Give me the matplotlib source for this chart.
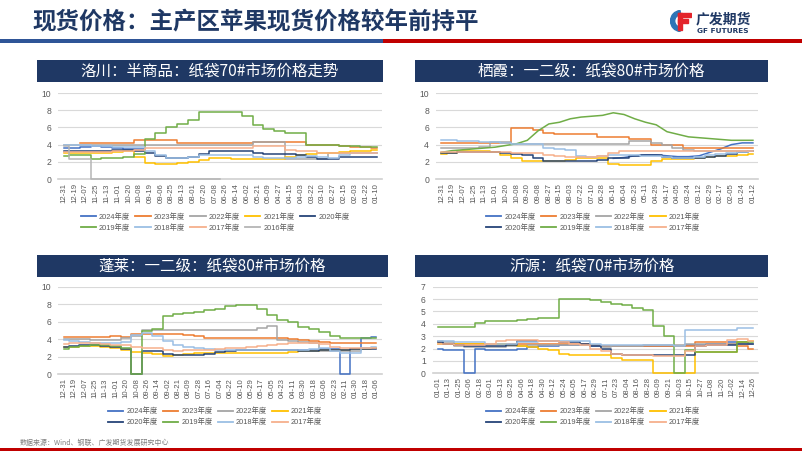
import numpy as np
import matplotlib
matplotlib.use("Agg")
import matplotlib.pyplot as plt
from matplotlib.patches import Rectangle, Wedge
from matplotlib.lines import Line2D

plt.rcParams['font.family'] = ['Noto Sans CJK SC', 'DejaVu Sans']

# ---------------- text ----------------
main_title = "现货价格：主产区苹果现货价格较年前持平"
source_text = "数据来源：Wind、钢联、广发期货发展研究中心"
logo_cn = "广发期货"
logo_en = "GF FUTURES"
t_lc = "洛川：半商品：纸袋70#市场价格走势"
t_qx = "栖霞：一二级：纸袋80#市场价格"
t_pl = "蓬莱：一二级：纸袋80#市场价格"
t_yy = "沂源：纸袋70#市场价格"

# ---------------- colors per season ----------------
colors = {"2024": "#4472C4", "2023": "#ED7D31", "2022": "#A5A5A5", "2021": "#FFC000",
          "2020": "#264478", "2019": "#70AD47", "2018": "#9BBFE4", "2017": "#F6B08C",
          "2016": "#B5B5B5"}

# ---------------- 洛川 ----------------
lc_ticks = ["12-31", "12-19", "12-07", "11-25", "11-13", "11-01", "10-20", "10-08", "09-19", "09-06",
            "08-25", "08-13", "08-01", "07-20", "07-08", "06-26", "06-14", "06-02", "05-21", "05-09",
            "04-27", "04-15", "04-03", "03-22", "03-10", "02-27", "02-15", "02-03", "01-22", "01-10"]
lc_2024 = [3.6, 3.6, 3.7, 3.8, 3.7, 3.6, 3.5, 3.5] + [None] * 22
lc_2023 = [None, None, 4.2, 4.2, 4.2, 4.2, 4.2, 4.5, 4.5, 4.5, 4.5, 4.2, 4.2, 4.2, 4.2, 4.2, 4.2, 4.2,
           4.3, 4.3, 4.3, 4.3, 4.3, 4.0, 4.0, 4.0, 3.8, 3.7, 3.7, 3.6]
lc_2022 = [3.9, 3.9, 3.9, 3.9, 3.9, 3.9, 3.9, 4.0, 4.0, 4.0, 4.0, 4.0, 4.0, 4.0, 4.0, 4.0, 4.0, 4.0,
           4.3, 4.3, 4.3, 2.3, 2.3, 2.3, 2.3, 3.0, 3.0, 3.0, 3.0, 3.0]
lc_2021 = [3.0, 3.0, 3.0, 3.0, 3.0, 3.1, 3.2, 2.6, 1.9, 1.8, 1.8, 1.85, 2.0, 2.2, 2.4, 2.5, 2.3, 2.3,
           2.3, 2.3, 2.35, 2.6, 2.8, 2.9, 3.0, 3.0, 3.1, 3.2, 3.3, 3.35]
lc_2020 = [3.3, 3.3, 3.3, 3.3, 3.3, 3.4, 3.4, 3.2, 3.0, 2.7, 2.5, 2.5, 2.6, 2.9, 3.3, 3.3, 3.3, 3.3,
           3.0, 2.9, 2.9, 2.9, 2.8, 2.6, 2.3, 2.3, 2.6, 2.6, 2.6, 2.6]
lc_2019 = [2.7, 2.8, 2.8, 2.3, 2.4, 2.5, 2.6, 2.9, 4.6, 5.3, 6.0, 6.4, 6.85, 7.75, 7.75, 7.75, 7.75, 7.3,
           6.3, 5.8, 5.6, 5.4, 5.4, 4.0, 4.0, 3.9, 3.85, 3.85, 3.75, 3.75]
lc_2018 = [3.9, 3.9, 3.9, 3.8, 3.8, 3.7, 3.7, 3.7, 3.3, 2.8, 2.5, 2.5, 2.6, 2.8, 2.8, 2.8, 2.8, 2.8,
           2.6, 2.5, 2.4, 2.4, 2.6, 2.7, 2.6, 2.5, 2.8, 3.0, 3.0, 3.0]
lc_2017 = [3.1, 3.1, 3.1, 3.1, 3.1, 3.2, 3.2, 3.4, 3.6, 3.6, 3.6, 3.6, 3.6, 3.6, 3.6, 3.6, 3.6, 3.6,
           3.8, 3.8, 3.8, 3.4, 3.3, 3.2, 3.0, 3.0, 3.0, 3.0, 3.0, 3.0]
lc_2016 = [3.85, 2.3, 2.3, 0, 0, 0, 0, 0, 0, 0, 0, 0, 0, 0, 0] + [None] * 15

# ---------------- 栖霞 ----------------
qx_ticks = ["12-31", "12-19", "12-07", "11-25", "11-13", "11-01", "10-20", "10-08", "09-20", "09-08",
            "08-27", "08-15", "08-03", "07-22", "07-10", "06-28", "06-16", "06-04", "05-23", "05-11",
            "04-29", "04-17", "04-05", "03-24", "03-12", "02-29", "02-17", "02-05", "01-24", "01-12"]
qx_2024 = [None] * 16 + [2.4, 2.5, 2.7, 2.8, 2.8, 2.7, 2.6, 2.6, 2.7, 3.1, 3.5, 4.0, 4.2, 4.2]
qx_2023 = [4.2, 4.2, 4.2, 4.2, 4.2, 4.2, 4.2, 5.9, 5.9, 5.7, 5.3, 5.2, 5.2, 5.2, 5.2, 4.9, 4.9, 4.9,
           4.6, 4.6, 4.0, 4.0, 3.9, 3.6, 3.6, 3.6, 3.6, 3.6, 3.6, 3.6]
qx_2022 = [3.6, 3.6, 3.6, 3.6, 3.7, 4.3, 4.3, 4.1, 4.1, 4.1, 4.1, 4.1, 4.1, 4.1, 4.1, 4.1, 4.1, 4.1,
           4.4, 4.4, 4.2, 3.9, 3.6, 3.4, 3.3, 3.3, 3.3, 3.3, 3.3, 3.3]
qx_2021 = [2.9, 3.0, 3.2, 3.2, 3.2, 3.1, 2.8, 2.4, 2.1, 2.1, 2.1, 2.1, 2.2, 2.5, 2.5, 2.5, 1.7, 1.6,
           1.6, 1.6, 2.1, 2.3, 2.3, 2.3, 2.5, 2.6, 2.7, 2.7, 2.8, 2.9]
qx_2020 = [3.0, 3.0, 3.1, 3.1, 3.1, 3.1, 3.0, 2.9, 2.8, 2.5, 2.1, 2.1, 2.1, 2.1, 2.1, 2.2, 2.4, 2.5,
           2.7, 2.8, 2.8, 2.6, 2.5, 2.5, 2.5, 2.6, 2.7, 2.9, 3.1, 3.2]
qx_2019 = [3.1, 3.3, 3.4, 3.5, 3.6, 3.7, 3.9, 4.1, 4.5, 5.6, 6.4, 6.6, 7.0, 7.2, 7.3, 7.4, 7.7, 7.5,
           7.0, 6.6, 6.3, 5.5, 5.2, 4.9, 4.8, 4.7, 4.6, 4.5, 4.5, 4.5]
qx_2018 = [4.5, 4.5, 4.4, 4.4, 4.3, 4.3, 4.2, 4.1, 4.1, 4.1, 3.6, 3.5, 3.4, 2.7, 2.6, 2.7, 2.8, 2.8,
           2.8, 2.7, 2.7, 2.6, 2.5, 2.5, 2.6, 2.8, 2.9, 3.0, 3.1, 3.2]
qx_2017 = [3.1, 3.1, 3.1, 3.1, 3.1, 3.1, 3.1, 3.0, 3.0, 3.0, 2.8, 2.7, 2.6, 2.6, 2.6, 2.7, 3.0, 3.2,
           3.3, 3.3, 3.3, 3.3, 3.3, 3.3, 3.3, 3.3, 3.3, 3.3, 3.3, 3.3]

# ---------------- 蓬莱 ----------------
pl_ticks = ["12-31", "12-19", "12-07", "11-25", "11-13", "11-01", "10-20", "10-08", "09-26", "09-14",
            "09-02", "08-21", "08-09", "07-28", "07-16", "07-04", "06-22", "06-10", "05-29", "05-17",
            "05-05", "04-23", "04-11", "03-30", "03-18", "03-06", "02-23", "02-11", "01-30", "01-18", "01-06"]
pl_2024 = [None] * 23 + [2.7, 2.8, 2.9, 2.9, 0, 2.9, 4.1, 4.2]
pl_2023 = [4.2, 4.2, 4.2, 4.2, 4.2, 4.4, 4.2, 4.6, 4.6, 4.6, 4.6, 4.6, 4.5, 4.3, 4.1, 4.1, 4.1, 4.1,
           4.1, 4.1, 4.1, 4.1, 4.0, 3.9, 3.8, 3.7, 3.6, 3.6, 3.6, 3.6, 3.6]
pl_2022 = [4.0, 4.0, 4.0, 3.9, 3.9, 3.9, 4.1, 4.4, 5.0, 5.0, 5.0, 5.0, 5.0, 5.0, 5.0, 5.0, 5.0, 5.0,
           5.0, 5.3, 5.5, 3.9, 3.8, 3.7, 3.6, 2.6, 2.6, 2.6, 2.6, 3.0, 3.0]
pl_2021 = [3.1, 3.1, 3.2, 3.2, 3.1, 3.0, 2.8, 2.5, 2.4, 2.3, 2.1, 2.2, 2.3, 2.4, 2.4, 2.4, 2.4, 2.4,
           2.4, 2.4, 2.4, 2.4, 2.5, 2.6, 2.6, 2.7, 2.7, 2.8, 2.9, 2.9, 3.0]
pl_2020 = [3.1, 3.2, 3.3, 3.3, 3.2, 3.1, 2.9, 0, 2.6, 2.6, 2.3, 2.2, 2.2, 2.2, 2.3, 2.5, 2.6, 2.7,
           2.8, 2.8, 2.8, 2.8, 2.7, 2.6, 2.6, 2.7, 2.7, 2.8, 2.9, 2.9, 2.9]
pl_2019 = [2.9, 3.1, 3.2, 3.3, 3.3, 3.2, 3.0, 0, 4.9, 5.2, 6.6, 6.9, 7.0, 7.1, 7.3, 7.4, 7.8, 7.9,
           7.9, 7.5, 6.8, 6.2, 6.0, 5.4, 5.1, 4.8, 4.3, 4.1, 4.1, 4.1, 4.1]
pl_2018 = [3.9, 3.8, 3.7, 3.6, 3.6, 3.5, 3.7, 4.5, 4.7, 4.4, 3.8, 3.3, 3.1, 3.0, 2.9, 2.8, 2.8, 2.8,
           2.8, 2.8, 2.8, 2.8, 2.8, 2.8, 2.9, 3.0, 2.6, 2.4, 2.4, 3.0, 3.1]
pl_2017 = [3.4, 3.5, 3.5, 3.5, 3.4, 3.3, 3.3, 3.1, 3.0, 3.0, 2.7, 2.6, 2.7, 2.8, 2.8, 2.9, 3.0, 3.0,
           3.1, 3.2, 3.3, 3.4, 3.5, 3.5, 3.5, 3.4, 3.1, 3.0, 3.0, 3.0, 3.0]

# ---------------- 沂源 ----------------
yy_ticks = ["01-01", "01-13", "01-25", "02-06", "02-18", "03-01", "03-13", "03-25", "04-06", "04-18",
            "04-30", "05-12", "05-24", "06-05", "06-17", "06-29", "07-11", "07-23", "08-04", "08-16",
            "08-28", "09-09", "09-21", "10-03", "10-15", "10-27", "11-08", "11-20", "12-02", "12-14", "12-26"]
yy_2024 = [2.0, 1.9, 1.85, 0, 2.0, 1.9, 1.9, 1.9, 2.0, 2.1, 2.2, 2.2, 2.3, 2.3, 2.3, 2.2, 2.2, 2.2,
           2.2, 2.2, 2.2, 2.2, 2.2, 2.2, 2.3, 2.3, 2.4, 2.4, 2.5, 2.5, 2.4]
yy_2023 = [2.5, 2.4, 2.4, 2.4, 2.4, 2.4, 2.4, 2.4, 2.4, 2.4, 2.4, 2.4, 2.4, 2.4, 2.4, 2.3, 2.2, 2.2,
           2.2, 2.2, 2.2, 2.2, 2.2, 2.2, 2.2, 2.5, 2.5, 2.5, 2.4, 2.2, 2.0]
yy_2022 = [2.6, 2.5, 2.2, 2.1, 2.1, 2.1, 2.1, 2.2, 2.2, 2.3, 2.3, 2.3, 2.3, 2.3, 2.3, 2.3, 2.1, 2.2,
           2.2, 2.2, 2.3, 2.3, 2.3, 2.3, 2.4, 2.4, 2.4, 2.4, 2.4, 2.4, 2.4]
yy_2021 = [2.4, 2.4, 2.4, 2.4, 2.4, 2.4, 2.4, 2.3, 2.2, 2.1, 2.0, 1.9, 1.6, 1.5, 1.5, 1.5, 1.5, 1.2,
           1.1, 1.1, 1.1, 0, 0, 0, 0, 1.7, 1.7, 1.7, 1.7, 2.5, 2.6]
yy_2020 = [2.5, 2.4, 2.3, 2.2, 2.2, 2.2, 2.2, 2.3, 2.6, 2.6, 2.6, 2.6, 2.5, 2.5, 2.4, 2.2, 2.0, 1.6,
           1.5, 1.5, 1.5, 1.5, 1.5, 1.5, 1.5, 2.2, 2.3, 2.3, 2.3, 2.4, 2.4]
yy_2019 = [3.75, 3.75, 3.75, 3.75, 4.1, 4.2, 4.2, 4.2, 4.3, 4.4, 4.5, 4.5, 6.0, 6.0, 6.0, 5.95, 5.8, 5.6,
           5.5, 5.3, 5.1, 3.8, 3.0, 0, 1.9, 1.7, 1.7, 1.7, 1.7, 2.5, 2.5]
yy_2018 = [2.6, 2.6, 2.5, 2.5, 2.5, 2.4, 2.4, 2.4, 2.5, 2.5, 2.6, 2.6, 2.6, 2.6, 2.6, 2.4, 2.3, 2.3,
           2.3, 2.3, 2.3, 2.3, 2.3, 2.2, 3.5, 3.5, 3.5, 3.5, 3.5, 3.65, 3.65]
yy_2017 = [2.4, 2.4, 2.3, 2.3, 2.3, 2.4, 2.6, 2.7, 2.7, 2.7, 2.6, 2.6, 2.5, 2.4, 2.3, 2.0, 1.8, 1.6,
           1.5, 1.45, 1.45, 1.4, 1.4, 1.4, 1.8, 2.2, 2.3, 2.3, 2.7, 2.75, 2.6]

lc_data = {"2024": lc_2024, "2023": lc_2023, "2022": lc_2022, "2021": lc_2021, "2020": lc_2020,
           "2019": lc_2019, "2018": lc_2018, "2017": lc_2017, "2016": lc_2016}
qx_data = {"2024": qx_2024, "2023": qx_2023, "2022": qx_2022, "2021": qx_2021, "2020": qx_2020,
           "2019": qx_2019, "2018": qx_2018, "2017": qx_2017}
pl_data = {"2024": pl_2024, "2023": pl_2023, "2022": pl_2022, "2021": pl_2021, "2020": pl_2020,
           "2019": pl_2019, "2018": pl_2018, "2017": pl_2017}
yy_data = {"2024": yy_2024, "2023": yy_2023, "2022": yy_2022, "2021": yy_2021, "2020": yy_2020,
           "2019": yy_2019, "2018": yy_2018, "2017": yy_2017}

# ---------------- figure ----------------
W, H = 802, 451
fig = plt.figure(figsize=(W / 100, H / 100), dpi=100)
fig.patch.set_facecolor("white")


def fx(x):
    return x / W


def fy(y):
    return 1 - y / H


def box(l, t, r, b, color, z=1):
    fig.add_artist(Rectangle((fx(l), fy(b)), fx(r - l), (b - t) / H, transform=fig.transFigure,
                             facecolor=color, edgecolor="none", zorder=z))


NAVY = "#1F3864"
TXT = "#595959"
LAT = ["Liberation Sans", "Noto Sans CJK SC"]

# header
fig.text(fx(32), fy(22), main_title, fontsize=16.9, fontweight="bold", color=NAVY,
         ha="left", va="center")
box(0, 39, 383, 43, "#2F5597")
box(383, 39, W, 43, "#C00000")
box(0, 448, W, 451, "#C00000")
fig.text(fx(20), fy(443), source_text, fontsize=5, color="#7F7F7F", ha="left", va="center")

# logo
lax = fig.add_axes([fx(670), fy(32), fx(22), 22 / H])
lax.set_xlim(0, 22)
lax.set_ylim(0, 22)
lax.axis("off")
lax.add_patch(Wedge((11, 11), 10.5, 95, 265, width=4.2, color="#2E75B6"))
lax.add_patch(Rectangle((8, 15), 12.5, 4, color="#E3242B"))
lax.add_patch(Rectangle((8, 9), 10, 3.5, color="#E3242B"))
lax.add_patch(Rectangle((8, 2.5), 4, 16.5, color="#E3242B"))
fig.text(fx(696), fy(19), logo_cn, fontsize=10, fontweight="bold", color=NAVY, ha="left", va="center")
fig.text(fx(697), fy(31), logo_en, fontsize=5.3, fontweight="bold", color=NAVY, ha="left",
         va="center", family="DejaVu Sans")


def panel(axbox, barbox, ptitle, ticks, data, ymax, ystep, leg_xy, ncol, linear=()):
    bl, bt, br, bb = barbox
    box(bl, bt, br, bb, NAVY)
    fig.text(fx((bl + br) / 2), fy((bt + bb) / 2), ptitle, fontsize=11.2, color="white",
             ha="center", va="center")
    l, t, r, b = axbox
    ax = fig.add_axes([fx(l), fy(b), fx(r - l), (b - t) / H])
    ax.patch.set_alpha(0)
    x = np.arange(len(ticks))
    handles, labels = [], []
    for k, (yr, vals) in enumerate(data.items()):
        v = np.array(vals, dtype=float)
        ds = "default" if yr in linear else "steps-mid"
        ax.plot(x, v, color=colors[yr], lw=1.1, drawstyle=ds, zorder=3 + k, clip_on=False)
        handles.append(Line2D([], [], color=colors[yr], lw=1.3))
        labels.append(yr + "年度")
    ax.set_xlim(-0.5, len(ticks) - 0.5)
    ax.set_ylim(0, ymax)
    ax.set_yticks(np.arange(0, ymax + 0.001, ystep))
    ax.set_yticklabels([f"{int(v)}" for v in np.arange(0, ymax + 0.001, ystep)],
                       fontsize=6.2, color=TXT, family="Liberation Sans")
    ax.set_xticks(x)
    ax.set_xticklabels(ticks, rotation=90, fontsize=5.6, color=TXT, family="Liberation Sans")
    ax.tick_params(axis="both", length=0)
    ax.tick_params(axis="y", pad=5)
    ax.tick_params(axis="x", pad=3)
    ax.grid(axis="y", color="#D9D9D9", lw=0.8)
    ax.set_axisbelow(True)
    for s in ["top", "left", "right"]:
        ax.spines[s].set_visible(False)
    ax.spines["bottom"].set_color("#D0D0D0")
    ax.spines["bottom"].set_linewidth(1.2)
    # legend in row-major order
    n = len(handles)
    rows = int(np.ceil(n / ncol))
    order = []
    for c in range(ncol):
        for rr in range(rows):
            idx = rr * ncol + c
            if idx < n:
                order.append(idx)
    fig.legend([handles[i] for i in order], [labels[i] for i in order], loc="center",
               bbox_to_anchor=(fx(leg_xy[0]), fy(leg_xy[1])), bbox_transform=fig.transFigure,
               ncol=ncol, frameon=False, prop={"family": LAT, "size": 5.3}, labelcolor=TXT,
               handlelength=2.1, handletextpad=0.4, columnspacing=0.7, labelspacing=0.45,
               borderpad=0)
    return ax


panel((58.3, 93, 382, 179), (36.7, 60, 383.3, 82), t_lc, lc_ticks, lc_data, 10, 2, (215, 222.5), 5)
panel((436, 93, 758.3, 179), (415, 60, 768.3, 82), t_qx, qx_ticks, qx_data, 10, 2, (593, 222.5), 4,
      linear=("2019", "2024"))
panel((58.3, 286.7, 381.7, 374), (36.7, 255, 388.3, 276.7), t_pl, pl_ticks, pl_data, 10, 2, (215, 417), 4)
panel((432.7, 286.7, 758.3, 373.3), (415, 255, 768.3, 276.7), t_yy, yy_ticks, yy_data, 7, 1, (593, 417), 4)

fig.savefig("out.png", dpi=100, facecolor="white")
